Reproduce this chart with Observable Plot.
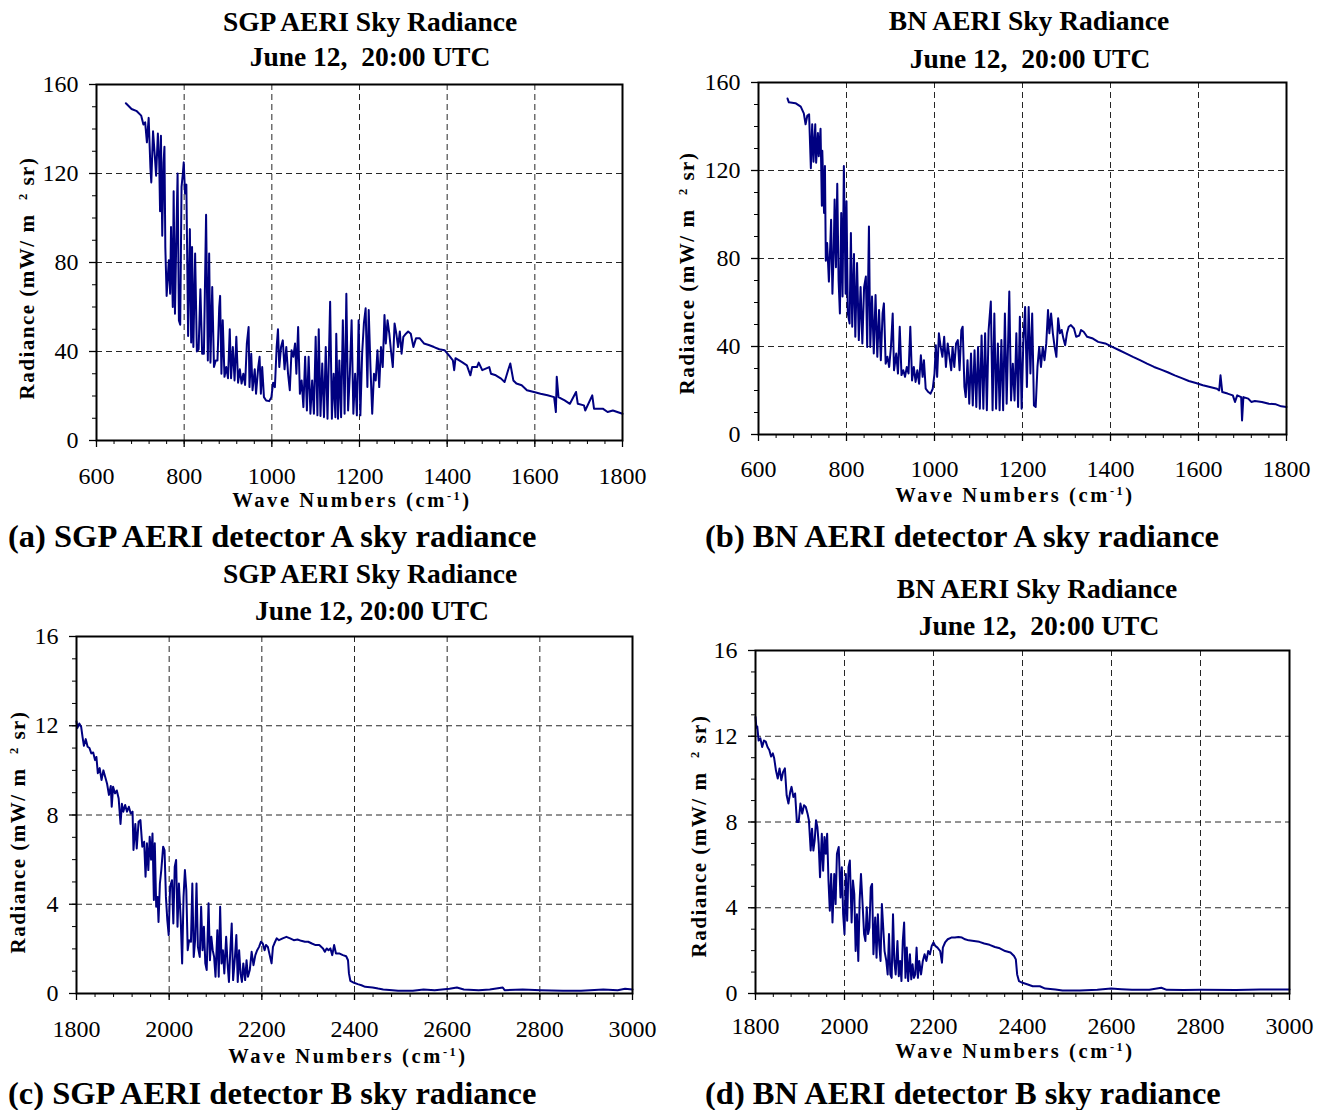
<!DOCTYPE html>
<html><head><meta charset="utf-8">
<script src="https://cdn.jsdelivr.net/npm/d3@7"></script>
<script src="https://cdn.jsdelivr.net/npm/@observablehq/plot@0.6"></script>
<style>
body{margin:0;background:#fff;}
#page{position:relative;width:1325px;height:1110px;font-family:"Liberation Serif","Times New Roman",serif;color:#000;overflow:hidden;background:#fff}
.t{position:absolute;white-space:pre;font-weight:bold;line-height:1;transform:translate(-50%,-50%)}
.title{font-size:27.5px}
.cap{font-size:32.5px;transform:translate(0,-50%)}
.xl{font-size:20.5px;letter-spacing:2.6px}
.yl{font-size:21px;letter-spacing:1.5px;transform:translate(-50%,-50%) rotate(-90deg)}
.t sup{font-size:0.6em;vertical-align:0.55em;line-height:0}
.p{position:absolute}
.p svg{overflow:visible}
.p svg, .p svg text, .p svg g{font-family:"Liberation Serif","Times New Roman",serif !important;}
</style></head>
<body><div id="page"></div>
<script>
// ---------- data ----------
// (a) SGP AERI detector A
const sgpA_wn = [667,680,692,702,707,711,715,719,723,725,729,733,736,740,743,745,747,750,753,755,757,760,765,768,770,774,776,779,782,785,788,791,794,797,799,802,805,809,813,816,818,821,825,829,833,837,841,845,850,854,857,860,864,868,872,876,880,882,885,888,892,896,900,904,907,911,915,919,923,927,931,935,939,943,947,949,953,956,961,964,969,972,975,978,982,987,994,999,1003,1007,1011,1014,1017,1021,1025,1029,1033,1037,1041,1045,1049,1053,1056,1060,1064,1068,1072,1076,1080,1084,1088,1092,1096,1100,1104,1107,1111,1115,1119,1123,1127,1133,1137,1141,1145,1147,1151,1154,1158,1162,1166,1170,1174,1178,1182,1186,1190,1194,1198,1202,1206,1210,1214,1218,1221,1225,1229,1233,1237,1241,1245,1249,1253,1257,1260,1264,1268,1272,1276,1280,1284,1288,1292,1296,1300,1306,1311,1317,1323,1329,1337,1347,1358,1370,1382,1394,1405,1413,1416,1419,1433,1445,1453,1457,1468,1472,1480,1496,1500,1511,1523,1531,1539,1544,1551,1558,1570,1582,1598,1613,1629,1644,1648,1650,1654,1668,1680,1694,1698,1712,1715,1731,1735,1755,1766,1778,1800];
const sgpA_rad = [151.6,149,148,146,142,143,134,145,122.6,116,139,128,119,138,126,103,137,92,125,132,87,65,81,66,96,60,112,57,90,120,54,52,114,120,125,111,115,47,95,44,87,42,84,40,41,68,39,39,101.5,36,84,35,69,33,36,36,60,65,30,54,28.6,33,28,50,28,42,27,46.6,26,32,25.6,30,25,43.6,51,24,39,22.6,32,21,33,37.6,21,33,19.5,18,17.7,19.5,26,24,42,50,33,42,45,32,42,30,22.6,40.6,37.6,43.6,30,51,21,27,15,37.6,13.5,37.6,12,27,12,46.6,11.3,50,11,34.6,10.5,42,9.8,62.4,9.8,30,10.5,48,9.8,36,10.5,54,12,66,13.5,30,54,12,30,11.3,54,11.3,39,52.6,59.4,24,58.6,33,12,30,27,40.6,24,42,33,56.4,43.6,54,48,40,33,52.6,48,42,49,39,46.6,48,49,48,42,46,46,43.6,42.9,42,41,40.6,38,36,31.6,37,35.3,33.8,29.3,33,33,35,31.6,33,30,29.3,27.8,26.3,31.6,34.6,27,25.6,24.8,22.6,21.8,21,20.3,19.5,12.8,28.6,19.5,18,16.5,21.8,16.5,15.8,13.5,20.3,14.3,14.3,12.8,13.5,12];

// (b) BN AERI detector A
const bnA_wn = [666,669,684,696,703,707,711,715,719,722,725,729,731,735,737,741,744,745,749,751,753,756,760,763,765,768,771,773,776,779,782,785,788,791,794,798,800,803,807,810,813,817,820,824,828,832,836,840,844,847,851,854,858,862,866,870,874,878,882,885,889,893,897,901,905,908,913,917,921,925,929,933,937,941,945,949,953,957,961,965,969,973,976,980,986,991,996,1000,1003,1006,1010,1014,1018,1022,1026,1030,1034,1038,1041,1045,1049,1053,1057,1061,1064,1068,1071,1075,1079,1083,1087,1091,1095,1099,1103,1107,1111,1115,1119,1123,1128,1132,1136,1140,1144,1148,1152,1156,1160,1164,1170,1174,1178,1182,1186,1190,1194,1198,1202,1206,1210,1214,1218,1222,1226,1230,1234,1238,1242,1246,1250,1254,1258,1261,1265,1269,1273,1277,1281,1285,1289,1293,1297,1301,1305,1310,1317,1322,1329,1333,1339,1347,1360,1372,1388,1404,1420,1436,1451,1467,1483,1499,1515,1530,1546,1562,1578,1594,1610,1626,1642,1647,1650,1654,1666,1678,1683,1688,1697,1699,1702,1713,1720,1728,1744,1760,1776,1788,1800];
const bnA_rad = [152.7,151,150.6,149,146,141,145,145.5,121,141,124,141,123.5,137,126.5,139,104,129,100.7,122,79,87,69.5,85.5,97.6,64,84,106.8,76,114,70,55,100.7,62.7,122,64,106,55,50.5,91.6,49,82,44.4,78,42.9,67,41.4,67,71.8,39.8,94.6,39.8,62.7,36.8,63.4,35.3,56.6,33.8,55,59.6,32.2,35.3,30.7,39.8,55,29.2,36.8,27.7,49,27,29.2,26.2,30.7,27.7,49,24.6,30.7,23.9,29.2,23.1,36,26.2,33.8,20.8,19.3,18.6,20.8,27.7,40.6,26.2,46,39.8,35.3,44.4,30.7,41.4,35.3,29.2,39.8,30.7,41.4,42.9,29.2,47.5,49,21.6,17,33.8,14,36.8,13.2,38.3,12.5,39.8,11.7,45,11.7,46,11,47.5,60.4,11,55,11.7,41.4,11,42.9,11,55,14,65,15.5,32.2,15.5,46,12.5,53.5,11.7,42.9,58,21.6,58,27.7,55,13.2,12.5,30.7,39.8,30.7,39.8,33.8,41.4,56.6,46,55,46,39.8,35.3,52.8,46,47.5,43.6,40.6,46,49,49.7,48.2,44.4,45,47.5,46.7,44.4,43.6,42.1,41.4,39.8,38.3,36.8,35.3,33.8,32.2,30.7,29.5,28.3,26.9,25.6,24.3,23.4,22.4,21.6,20.8,20,26.9,19.3,18.6,17.8,14.8,17.8,17,6.4,17,16.3,14.8,15.2,14.8,14,13.7,12.8,12.5];

// (c) SGP AERI detector B
const sgpB_wn = [1800,1802,1806,1810,1813,1816,1820,1824,1828,1832,1836,1840,1843,1846,1850,1854,1858,1862,1866,1870,1874,1876,1879,1883,1887,1891,1895,1898,1901,1905,1909,1913,1917,1921,1923,1927,1930,1934,1938,1942,1946,1949,1952,1955,1958,1961,1964,1967,1969,1972,1975,1977,1980,1983,1987,1990,1993,1996,1999,2002,2006,2009,2012,2015,2018,2021,2025,2028,2031,2034,2037,2040,2043,2047,2050,2053,2056,2059,2062,2066,2069,2072,2075,2078,2081,2085,2088,2091,2094,2097,2100,2104,2107,2110,2113,2116,2119,2123,2126,2129,2132,2135,2138,2142,2145,2148,2151,2154,2157,2160,2164,2167,2170,2174,2178,2182,2186,2190,2194,2198,2202,2206,2209,2213,2217,2221,2224,2227,2232,2237,2245,2253,2261,2269,2277,2285,2293,2300,2308,2316,2324,2332,2336,2340,2344,2348,2352,2356,2360,2368,2375,2382,2386,2388,2391,2399,2407,2415,2423,2439,2451,2462,2482,2494,2526,2549,2573,2605,2621,2636,2668,2692,2720,2724,2763,2802,2850,2889,2937,2968,2984,3000];
const sgpB_rad = [12.2,11.9,12.1,11.96,11.5,11.1,11.4,11.06,11,10.76,10.8,10.46,10.6,9.87,10.1,9.57,10,9.7,9.4,8.9,9.3,8.37,9.27,8.97,9.1,8.74,7.6,8.5,8.15,8.45,8.15,8.37,8.07,8.15,6.43,7.6,6.5,7.7,7.77,6.58,6.8,5.23,6.73,5.53,7.03,6,7.17,4.19,6.73,3.89,4.33,3.21,4.93,5.53,6.58,6.43,4.33,3.29,2.62,4.78,5.08,3.14,5.68,5.98,2.99,4.93,3.29,1.35,4.33,5.53,4.63,1.94,2.39,2.32,4.93,1.64,2.39,4.93,2.09,1.64,3.89,1.94,2.99,1.35,1.05,4.04,1.49,2.54,1.94,1.64,0.75,2.84,0.75,3.89,1.35,1.94,0.9,2.54,1.35,0.52,1.94,3.14,0.6,1.64,2.62,0.52,1.94,0.9,0.52,1.35,0.6,1.49,0.75,1.05,1.87,1.27,1.72,1.94,2.09,2.32,2.24,1.94,2.17,2.09,1.72,1.35,2.09,2.24,2.47,2.39,2.47,2.54,2.47,2.39,2.42,2.36,2.32,2.32,2.24,2.17,2.17,2.02,1.87,2.02,1.94,2.02,1.72,2.17,1.79,1.79,1.72,1.67,1.49,0.9,0.57,0.48,0.42,0.37,0.3,0.27,0.22,0.18,0.15,0.12,0.12,0.18,0.15,0.21,0.27,0.18,0.15,0.18,0.27,0.15,0.18,0.15,0.12,0.12,0.18,0.15,0.21,0.18];

// (d) BN AERI detector B
const bnB_wn = [1800,1802,1804,1807,1811,1815,1819,1823,1827,1831,1835,1839,1842,1846,1850,1854,1858,1862,1866,1870,1874,1878,1881,1885,1889,1893,1897,1901,1905,1909,1913,1917,1920,1924,1927,1930,1933,1936,1939,1942,1945,1949,1952,1955,1958,1961,1964,1967,1970,1973,1977,1980,1983,1987,1991,1994,1997,2000,2003,2006,2009,2012,2016,2019,2022,2025,2028,2031,2034,2037,2041,2044,2047,2050,2053,2056,2059,2062,2065,2069,2072,2075,2078,2081,2084,2087,2090,2094,2097,2100,2103,2106,2109,2112,2115,2119,2122,2125,2128,2131,2134,2137,2140,2143,2147,2150,2153,2156,2159,2162,2165,2168,2172,2176,2180,2184,2188,2192,2196,2200,2204,2209,2215,2219,2221,2226,2232,2240,2248,2256,2264,2271,2279,2291,2303,2314,2326,2338,2349,2361,2373,2381,2385,2388,2392,2400,2412,2423,2439,2451,2474,2490,2529,2568,2599,2622,2646,2685,2712,2724,2762,2802,2880,2934,2957,3000];
const bnB_rad = [12.9,12.4,12.45,11.8,11.9,11.5,11.8,11.75,11.5,11.36,11.05,11.2,10.97,10.4,10.03,10.5,9.95,10.34,10.5,9.25,8.86,9.4,9.64,9.17,9.33,8,8,8.86,8.39,8.78,8.7,8.39,8.08,6.67,7.69,6.67,7.14,8.08,7.77,6.98,5.42,7.45,5.73,7.3,6.52,7.45,5.27,3.86,5.58,3.31,5.58,4.17,6.52,6.83,4.48,5.89,3.7,2.77,5.58,3.39,5.89,6.2,3.31,5.27,4.64,1.98,3.7,1.52,4.33,5.58,4.02,2.77,2.45,4.02,2.77,3.08,4.95,5.11,1.83,3.55,1.67,3.7,2.3,1.52,4.17,3.08,1.98,1.52,0.89,2.77,0.89,0.73,3.7,1.52,0.89,2.45,0.81,1.52,0.58,2.45,3.31,0.73,2.14,0.58,1.83,0.66,1.36,0.73,0.89,2.14,0.73,1.52,0.89,1.52,1.83,1.52,1.98,1.83,2.22,2.38,2.22,2.14,1.98,1.44,2.14,2.38,2.53,2.61,2.61,2.64,2.61,2.53,2.48,2.45,2.41,2.33,2.27,2.17,2.11,1.98,1.91,1.75,1.59,0.89,0.58,0.5,0.42,0.34,0.34,0.23,0.19,0.14,0.14,0.17,0.23,0.2,0.17,0.17,0.27,0.17,0.16,0.17,0.16,0.19,0.19,0.19];

// tick values
const xTicksA = [600,800,1000,1200,1400,1600,1800];
const yTicksA = [0,40,80,120,160];
const xTicksB = [1800,2000,2200,2400,2600,2800,3000];
const yTicksB = [0,4,8,12,16];
const xMinorA = d3.range(600, 1801, 40);
const yMinorA = d3.range(0, 161, 10);
const xMinorB = d3.range(1800, 3001, 40);
const yMinorB = d3.range(0, 17, 1);

// text
const titlesLine1 = ["SGP AERI Sky Radiance", "BN AERI Sky Radiance", "SGP AERI Sky Radiance", "BN AERI Sky Radiance"];
const titlesLine2 = ["June 12,  20:00 UTC", "June 12,  20:00 UTC", "June 12, 20:00 UTC", "June 12,  20:00 UTC"];
const captions = ["(a) SGP AERI detector A sky radiance", "(b) BN AERI detector A sky radiance", "(c) SGP AERI detector B sky radiance", "(d) BN AERI detector B sky radiance"];

// ---------- drawing ----------
const page = document.getElementById("page");
const FONT = "'Liberation Serif', 'Times New Roman', serif";

function panel(wn, rad, xT, yT, xM, yM, box) {
  const n = Math.min(wn.length, rad.length);
  const data = d3.range(n).map(i => ({w: wn[i], r: rad[i]}));
  const grid = {stroke: "#000", strokeOpacity: 0.85, strokeWidth: 1, strokeDasharray: "6,4"};
  const svg = Plot.plot({
    width: box.w, height: box.h,
    marginLeft: box.ml, marginRight: box.mr, marginTop: box.mt, marginBottom: box.mb,
    style: {fontFamily: FONT, fontSize: "24px", background: "transparent", color: "#000", overflow: "visible"},
    x: {domain: [xT[0], xT[xT.length - 1]]},
    y: {domain: [yT[0], yT[yT.length - 1]]},
    marks: [
      Plot.gridX(xT.slice(1, -1), grid),
      Plot.gridY(yT.slice(1, -1), grid),
      Plot.axisX({ticks: xM, tickSize: 4, tickFormat: () => "", label: null}),
      Plot.axisY({ticks: yM, tickSize: 4, tickFormat: () => "", label: null}),
      Plot.axisX({ticks: xT, tickSize: 7, tickPadding: box.tpx, tickFormat: d => String(d), label: null, fontSize: 24, fontFamily: FONT, strokeWidth: 1.3}),
      Plot.axisY({ticks: yT, tickSize: 7, tickPadding: 11, tickFormat: d => String(d), label: null, fontSize: 24, fontFamily: FONT, strokeWidth: 1.3}),
      Plot.line(data, {x: "w", y: "r", stroke: "#000080", strokeWidth: 2, strokeLinejoin: "round"}),
      Plot.frame({stroke: "#000", strokeWidth: 2})
    ]
  });
  const wrap = document.createElement("div");
  wrap.className = "p";
  wrap.style.left = box.left + "px";
  wrap.style.top = box.top + "px";
  wrap.appendChild(svg);
  page.appendChild(wrap);
}

function text(cls, html, x, y) {
  const d = document.createElement("div");
  d.className = "t " + cls;
  d.style.left = x + "px";
  d.style.top = y + "px";
  d.innerHTML = html;
  page.appendChild(d);
}

panel(sgpA_wn, sgpA_rad, xTicksA, yTicksA, xMinorA, yMinorA, {left: 0, top: 60, w: 660, h: 440, ml: 96, mr: 38, mt: 24, mb: 60, tpx: 19});
panel(bnA_wn, bnA_rad, xTicksA, yTicksA, xMinorA, yMinorA, {left: 662, top: 60, w: 663, h: 440, ml: 96, mr: 39, mt: 22, mb: 66, tpx: 18});
panel(sgpB_wn, sgpB_rad, xTicksB, yTicksB, xMinorB, yMinorB, {left: 0, top: 620, w: 660, h: 440, ml: 76, mr: 28, mt: 16, mb: 67, tpx: 19});
panel(bnB_wn, bnB_rad, xTicksB, yTicksB, xMinorB, yMinorB, {left: 662, top: 630, w: 663, h: 430, ml: 93, mr: 36, mt: 20, mb: 67, tpx: 16});

const titlePos = [[370, 22, 370, 57], [1029, 21, 1030, 59], [370, 574, 372, 611], [1037, 589, 1039, 626]];
const capPos = [[8, 536], [705, 536], [8, 1093], [705, 1093]];
const xlPos = [[352, 500], [1015, 495], [348, 1056], [1015, 1051]];
const ylPos = [[27, 278], [687, 273], [18, 832], [699, 836]];
const xLabel = "Wave Numbers (cm<sup>-1</sup>)";
const yLabel = "Radiance (mW/ m  <sup>2</sup> sr)";

for (let i = 0; i < 4; i++) {
  text("title", titlesLine1[i], titlePos[i][0], titlePos[i][1]);
  text("title", titlesLine2[i], titlePos[i][2], titlePos[i][3]);
  text("cap", captions[i], capPos[i][0], capPos[i][1]);
  text("xl", xLabel, xlPos[i][0], xlPos[i][1]);
  text("yl", yLabel, ylPos[i][0], ylPos[i][1]);
}
</script>
</body></html>
